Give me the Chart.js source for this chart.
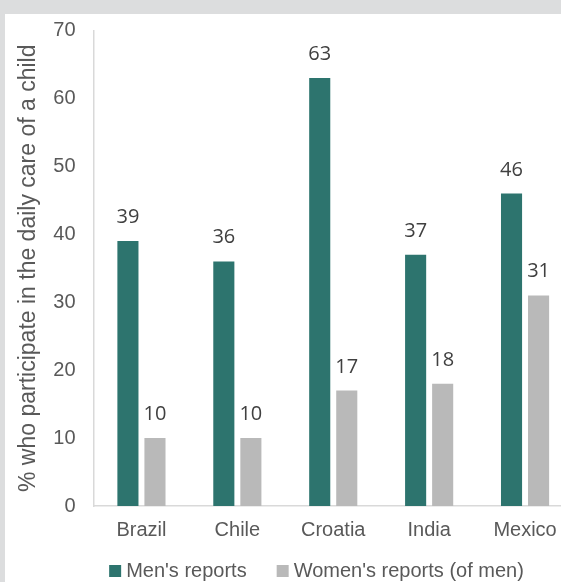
<!DOCTYPE html>
<html>
<head>
<meta charset="utf-8">
<script src="https://cdn.jsdelivr.net/npm/chart.js@4/dist/chart.umd.min.js"></script>
<style>
  html, body { margin: 0; padding: 0; width: 561px; height: 582px; overflow: hidden; background: #ffffff; }
  #topband { position: absolute; left: 0; top: 0; width: 561px; height: 14px; background: #dcddde; z-index: 2; }
  #leftband { position: absolute; left: 0; top: 0; width: 5px; height: 582px; background: #dcddde; z-index: 2; }
  #wrap { position: absolute; left: 5px; top: 14px; width: 580px; height: 603px; background: #ffffff; }
</style>
</head>
<body>
<div id="topband"></div>
<div id="leftband"></div>
<div id="wrap"><canvas id="c" width="580" height="603"></canvas></div>
<script>
const categories = ['Brazil', 'Chile', 'Croatia', 'India', 'Mexico'];
const menReports = [39, 36, 63, 37, 46];
const womenReports = [10, 10, 17, 18, 31];
const seriesNames = ["Men's reports", "Women's reports (of men)"];
const yTitle = '% who participate in the daily care of a child';
const yMin = 0, yMax = 70, yStep = 10;

const axisFont = { family: "'Liberation Sans', Arial, sans-serif", size: 20 };
const textColor = '#595959';
const lineColor = '#d9d9d9';

const valueLabels = {
  id: 'valueLabels',
  afterDatasetsDraw(chart) {
    const ctx = chart.ctx;
    ctx.save();
    ctx.font = "20px 'Open Sans', sans-serif";
    ctx.fillStyle = '#404040';
    ctx.textAlign = 'center';
    ctx.textBaseline = 'alphabetic';
    chart.data.datasets.forEach((ds, di) => {
      const meta = chart.getDatasetMeta(di);
      meta.data.forEach((el, i) => {
        ctx.fillText(String(ds.data[i]), el.x, el.y - 18);
      });
    });
    ctx.restore();
  }
};

const legendShift = {
  id: 'legendShift',
  afterLayout(chart, args, opts) {
    const lg = chart.legend;
    if (!lg) return;
    lg.left += opts.dx; lg.right += opts.dx;
    lg.top += opts.dy; lg.bottom += opts.dy;
  }
};

new Chart(document.getElementById('c'), {
  type: 'bar',
  data: {
    labels: categories,
    datasets: [
      { label: seriesNames[0], data: menReports, backgroundColor: '#2d746e', borderWidth: 0,
        barPercentage: 0.78, categoryPercentage: 0.564 },
      { label: seriesNames[1], data: womenReports, backgroundColor: '#b9b9b9', borderWidth: 0,
        barPercentage: 0.78, categoryPercentage: 0.564 }
    ]
  },
  options: {
    responsive: false,
    animation: false,
    devicePixelRatio: 1,
    layout: { padding: { top: 16.5, right: 12, left: 0, bottom: 0 } },
    plugins: {
      tooltip: { enabled: false },
      legend: {
        position: 'bottom',
        labels: {
          usePointStyle: true,
          pointStyle: 'rect',
          boxWidth: 2,
          boxHeight: 12,
          padding: 35,
          color: textColor,
          font: axisFont
        }
      },
      legendShift: { dx: 30, dy: -26 }
    },
    scales: {
      x: {
        grid: { display: false, drawTicks: false },
        border: { display: true, color: lineColor, width: 1.5 },
        ticks: { color: textColor, font: axisFont, padding: 12 },
        afterFit(s) { s.height = 46; }
      },
      y: {
        min: yMin, max: yMax,
        grid: { display: false, drawTicks: true, tickLength: 15 },
        border: { display: true, color: lineColor, width: 1.5 },
        ticks: { stepSize: yStep, color: textColor, font: axisFont, padding: 3 },
        title: {
          display: true, text: yTitle, color: textColor,
          font: { family: "'Liberation Sans', Arial, sans-serif", size: 23 },
          padding: { top: 10, bottom: 0 }
        },
        afterFit(s) { s.width = 88.5; }
      }
    }
  },
  plugins: [valueLabels, legendShift]
});
</script>
</body>
</html>
